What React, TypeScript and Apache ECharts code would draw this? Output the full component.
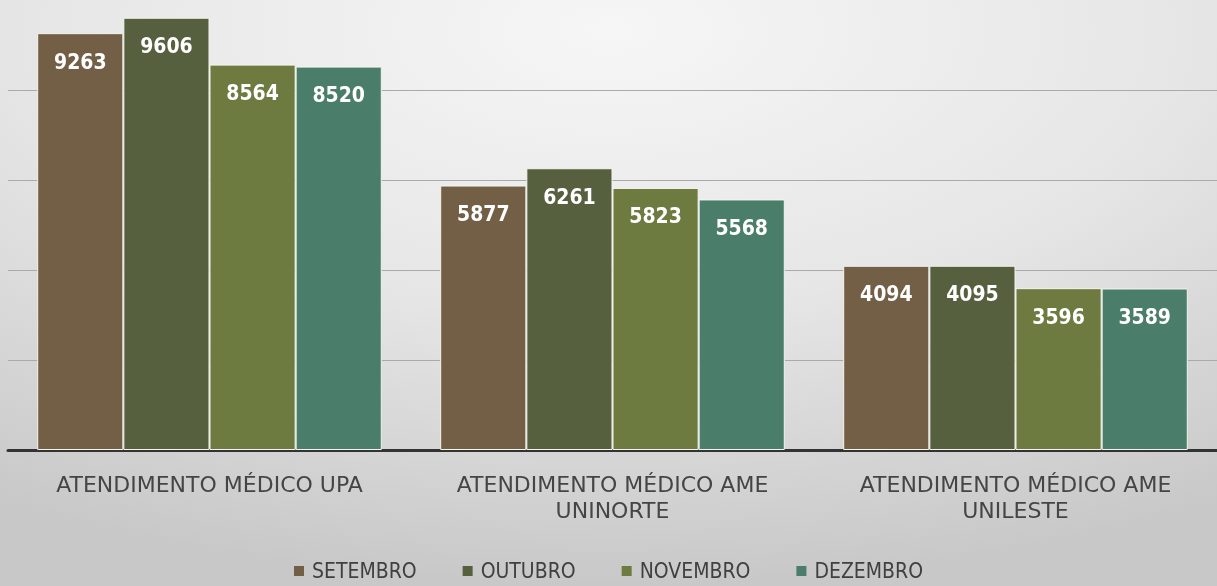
import React, { useEffect, useRef } from "react";
import * as echarts from "echarts";

const categories = [
  "ATENDIMENTO MÉDICO UPA",
  "ATENDIMENTO MÉDICO AME\nUNINORTE",
  "ATENDIMENTO MÉDICO AME\nUNILESTE",
];
const seriesNames = ["SETEMBRO", "OUTUBRO", "NOVEMBRO", "DEZEMBRO"];
const setembro = [9263, 5877, 4094];
const outubro = [9606, 6261, 4095];
const novembro = [8564, 5823, 3596];
const dezembro = [8520, 5568, 3589];
const colors = ["#735F45", "#56603F", "#6D7A40", "#4A7D6A"];

export default function App() {
  const ref = useRef<HTMLDivElement>(null);
  useEffect(() => {
    const chart = echarts.init(ref.current!, null, { renderer: "svg" });
    const values = [setembro, outubro, novembro, dezembro];
    chart.setOption({
      animation: false,
      backgroundColor: {
        type: "radial",
        x: 0.5,
        y: 0.05,
        r: 0.95,
        colorStops: [
          { offset: 0, color: "#f6f6f6" },
          { offset: 0.5, color: "#e6e6e6" },
          { offset: 1, color: "#c8c8c8" },
        ],
      },
      color: colors,
      grid: { left: 8, right: 0, top: 0, bottom: 136, containLabel: false },
      legend: {
        top: 557,
        left: "center",
        padding: [2, 5, 2, 5],
        itemWidth: 10,
        itemHeight: 10,
        itemGap: 46,
        icon: "rect",
        itemStyle: { borderWidth: 0 },
        textStyle: {
          color: "#404040",
          fontSize: 21,
          lineHeight: 24,
          fontFamily: "DejaVu Sans Condensed",
          padding: [0, 0, 0, 3],
        },
        data: seriesNames,
      },
      xAxis: {
        type: "category",
        data: categories,
        axisTick: { show: false },
        axisLine: { lineStyle: { color: "#333333", width: 3 } },
        axisLabel: {
          color: "#454545",
          fontSize: 22,
          fontFamily: "DejaVu Sans",
          margin: 21,
          lineHeight: 26,
          interval: 0,
        },
      },
      yAxis: {
        type: "value",
        min: 0,
        max: 10000,
        interval: 2000,
        axisLabel: { show: false },
        axisLine: { show: false },
        axisTick: { show: false },
        splitLine: {
          lineStyle: {
            color: ["#aaaaaa", "#aaaaaa", "#aaaaaa", "#aaaaaa", "#aaaaaa", "rgba(0,0,0,0)"],
            width: 1,
          },
        },
      },
      series: seriesNames.map((name, i) => ({
        name,
        type: "bar",
        data: values[i],
        barGap: "0%",
        barCategoryGap: "14.5%",
        itemStyle: { color: colors[i], borderColor: "#f4f4ee", borderWidth: 1 },
        label: {
          show: true,
          position: "insideTop",
          distance: 18,
          color: "#ffffff",
          fontSize: 21,
          fontWeight: "bold",
          fontFamily: "DejaVu Sans Condensed",
        },
      })),
    });
    return () => chart.dispose();
  }, []);
  return (
    <div
      ref={ref}
      style={{ position: "fixed", left: 0, top: 0, width: 1217, height: 586 }}
    />
  );
}
